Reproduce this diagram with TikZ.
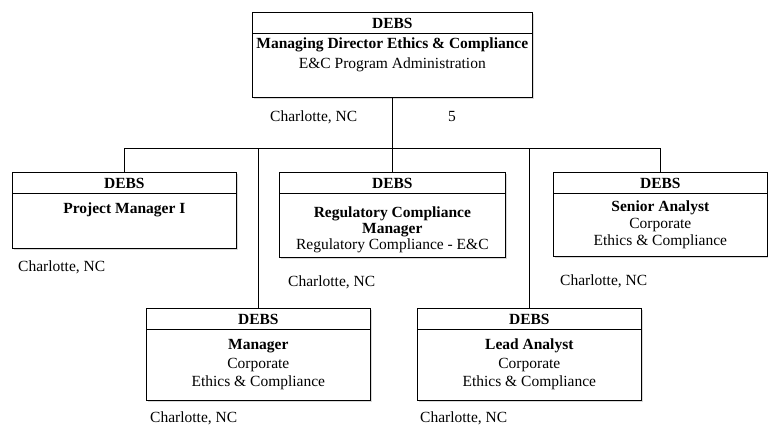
\documentclass[tikz,border=0pt]{standalone}
\usepackage{fontspec}
\setmainfont{Liberation Serif}
\usetikzlibrary{positioning,shadows}

\begin{document}
\fontsize{15.5}{17}\selectfont
\begin{tikzpicture}[x=1pt,y=-1pt,
  box/.style={draw,fill=white,line width=.7pt,inner sep=0pt,anchor=north west,
    drop shadow={shadow xshift=1.6pt,shadow yshift=-1.6pt,opacity=.3}},
  head/.style={font=\bfseries,inner sep=0pt,anchor=base},
  body/.style={align=center,inner sep=0pt,anchor=base},
  city/.style={inner sep=0pt,anchor=base west},
  link/.style={line width=1.1pt}]
\useasboundingbox (0,0) rectangle (768,426);

% boxes
\node[box,minimum width=280pt,minimum height=85pt] (dir) at (252,12) {};
\node[box,minimum width=224pt,minimum height=76pt] (pm)  at (12,172) {};
\node[box,minimum width=226pt,minimum height=85pt] (rcm) at (279,172) {};
\node[box,minimum width=214pt,minimum height=84pt] (sa)  at (553,172) {};
\node[box,minimum width=224pt,minimum height=92pt] (mgr) at (146,308) {};
\node[box,minimum width=224pt,minimum height=92pt] (la)  at (417,308) {};

% DEBS header row of each box
\foreach \b in {dir,pm,rcm,sa,mgr,la}{
  \draw[line width=.7pt] ([yshift=-21pt]\b.north west) -- ([yshift=-21pt]\b.north east);
  \node[head] (\b H) at ([yshift=-16pt]\b.north) {DEBS};
}

% titles and units (base = last line)
\node[body] (dirT) at ([yshift=-36pt]dir.north) {\textbf{Managing Director Ethics \& Compliance}};
\node[body] (dirU) at ([yshift=-56pt]dir.north) {E\&C Program Administration};
\node[body] (pmT)  at ([yshift=-41pt]pm.north) {\textbf{Project Manager I}};
\node[body] (rcmT) at ([yshift=-77pt]rcm.north) {\textbf{Regulatory Compliance}\\[-1pt]\textbf{Manager}\\[-1pt]Regulatory Compliance - E\&C};
\node[body] (saT)  at ([yshift=-73pt]sa.north) {\textbf{Senior Analyst}\\Corporate\\Ethics \& Compliance};
\node[body] (mgrT) at ([yshift=-78pt]mgr.north) {\textbf{Manager}\\[2pt]Corporate\\[1pt]Ethics \& Compliance};
\node[body] (laT)  at ([yshift=-78pt]la.north) {\textbf{Lead Analyst}\\[2pt]Corporate\\[1pt]Ethics \& Compliance};

% locations
\node[city] (dirC) at (270,121) {Charlotte, NC};
\node[inner sep=0pt,anchor=base] (dirN) at (452,121) {5};
\node[city] (pmC)  at (18,271) {Charlotte, NC};
\node[city] (rcmC) at (288,286) {Charlotte, NC};
\node[city] (saC)  at (560,285) {Charlotte, NC};
\node[city] (mgrC) at (150,422) {Charlotte, NC};
\node[city] (laC)  at (420,422) {Charlotte, NC};

% reporting lines
\draw[link] (dir.south) -- ++(0,51) coordinate (bus);
\foreach \b in {pm,rcm,sa,mgr,la}
  \draw[link] (bus) -| (\b.north);

\end{tikzpicture}
\end{document}
